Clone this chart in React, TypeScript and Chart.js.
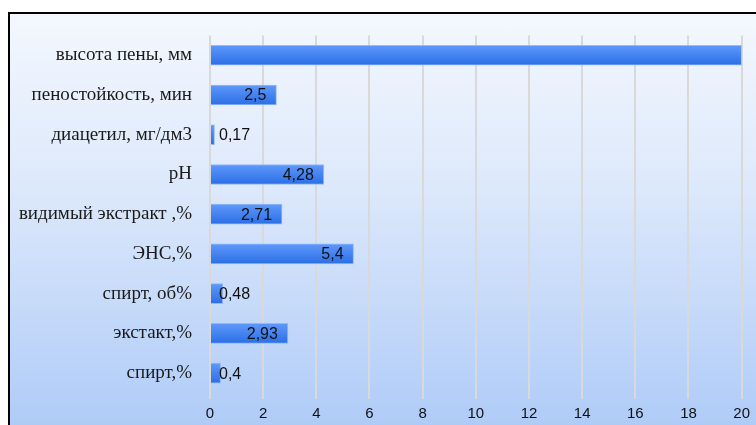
import React, { useEffect, useRef } from "react";
import { Chart, registerables } from "chart.js";

Chart.register(...registerables);

const categories = [
  "высота пены, мм",
  "пеностойкость, мин",
  "диацетил, мг/дм3",
  "pH",
  "видимый экстракт ,%",
  "ЭНС,%",
  "спирт, об%",
  "экстакт,%",
  "спирт,%",
];
const values = [20, 2.5, 0.17, 4.28, 2.71, 5.4, 0.48, 2.93, 0.4];
const labelTexts = ["", "2,5", "0,17", "4,28", "2,71", "5,4", "0,48", "2,93", "0,4"];
const xTicks = [0, 2, 4, 6, 8, 10, 12, 14, 16, 18, 20];

const valueLabelPlugin = {
  id: "valueLabels",
  afterDatasetsDraw(chart: any) {
    const ctx = chart.ctx;
    const meta = chart.getDatasetMeta(0);
    const x0 = chart.scales.x.getPixelForValue(0);
    ctx.save();
    ctx.font = '16px "Liberation Sans", Arial, sans-serif';
    ctx.fillStyle = "#111";
    ctx.textBaseline = "middle";
    ctx.textAlign = "left";
    meta.data.forEach((el: any, i: number) => {
      const t = labelTexts[i];
      if (!t) return;
      const w = ctx.measureText(t).width;
      const left = Math.max(el.x - 10 - w, x0 + 9);
      ctx.fillText(t, left, el.y + 1);
    });
    ctx.restore();
  },
};

export default function App() {
  const ref = useRef<HTMLCanvasElement>(null);
  useEffect(() => {
    document.documentElement.style.overflow = "hidden";
    const canvas = ref.current!;
    const chart = new Chart(canvas, {
      type: "bar",
      data: {
        labels: categories,
        datasets: [
          {
            data: values,
            backgroundColor: (c: any) => {
              const sc = c.chart.scales && c.chart.scales.y;
              if (c.dataIndex == null || !sc) return "#3d80f0";
              const y = sc.getPixelForValue(c.dataIndex);
              if (y == null || isNaN(y)) return "#3d80f0";
              const g = c.chart.ctx.createLinearGradient(0, y - 10, 0, y + 10);
              g.addColorStop(0, "#5e98fa");
              g.addColorStop(1, "#2b6fe6");
              return g;
            },
            borderColor: "rgba(140,180,248,0.9)",
            borderWidth: 1,
            barThickness: 20,
          },
        ],
      },
      options: {
        indexAxis: "y",
        animation: false,
        responsive: false,
        maintainAspectRatio: false,
        layout: { padding: { top: 10, right: 14, left: 0, bottom: 0 } },
        plugins: { legend: { display: false }, tooltip: { enabled: false } },
        scales: {
          x: {
            min: 0,
            max: 20,
            afterBuildTicks: (s: any) => {
              s.ticks = xTicks.map((v) => ({ value: v }));
            },
            afterFit: (s: any) => {
              s.height = 32;
            },
            grid: { color: "#d9d9d9", lineWidth: 2, drawTicks: true, tickLength: 6 },
            border: { display: false },
            ticks: {
              color: "#111",
              padding: 6,
              font: { family: '"Liberation Sans", Arial, sans-serif', size: 15 },
            },
          },
          y: {
            afterFit: (s: any) => {
              s.width = 200;
            },
            grid: { display: false },
            border: { display: false },
            ticks: {
              color: "#1a1a1a",
              padding: 10,
              font: { family: '"Liberation Serif", "Times New Roman", serif', size: 19 },
            },
          },
        },
      },
      plugins: [valueLabelPlugin],
    } as any);
    return () => chart.destroy();
  }, []);

  return (
    <div
      style={{
        position: "fixed",
        left: 0,
        top: 0,
        width: 756,
        height: 425,
        overflow: "hidden",
        background: "#fff",
      }}
    >
      <div
        style={{
          position: "absolute",
          left: 8,
          top: 12,
          width: 770,
          height: 440,
          border: "2px solid #000",
          background: "linear-gradient(to bottom, #f4f8fe 0%, #dce8fb 40%, #a9c8f7 100%)",
        }}
      >
        <canvas ref={ref} width={746} height={411} style={{ display: "block" }} />
      </div>
    </div>
  );
}
